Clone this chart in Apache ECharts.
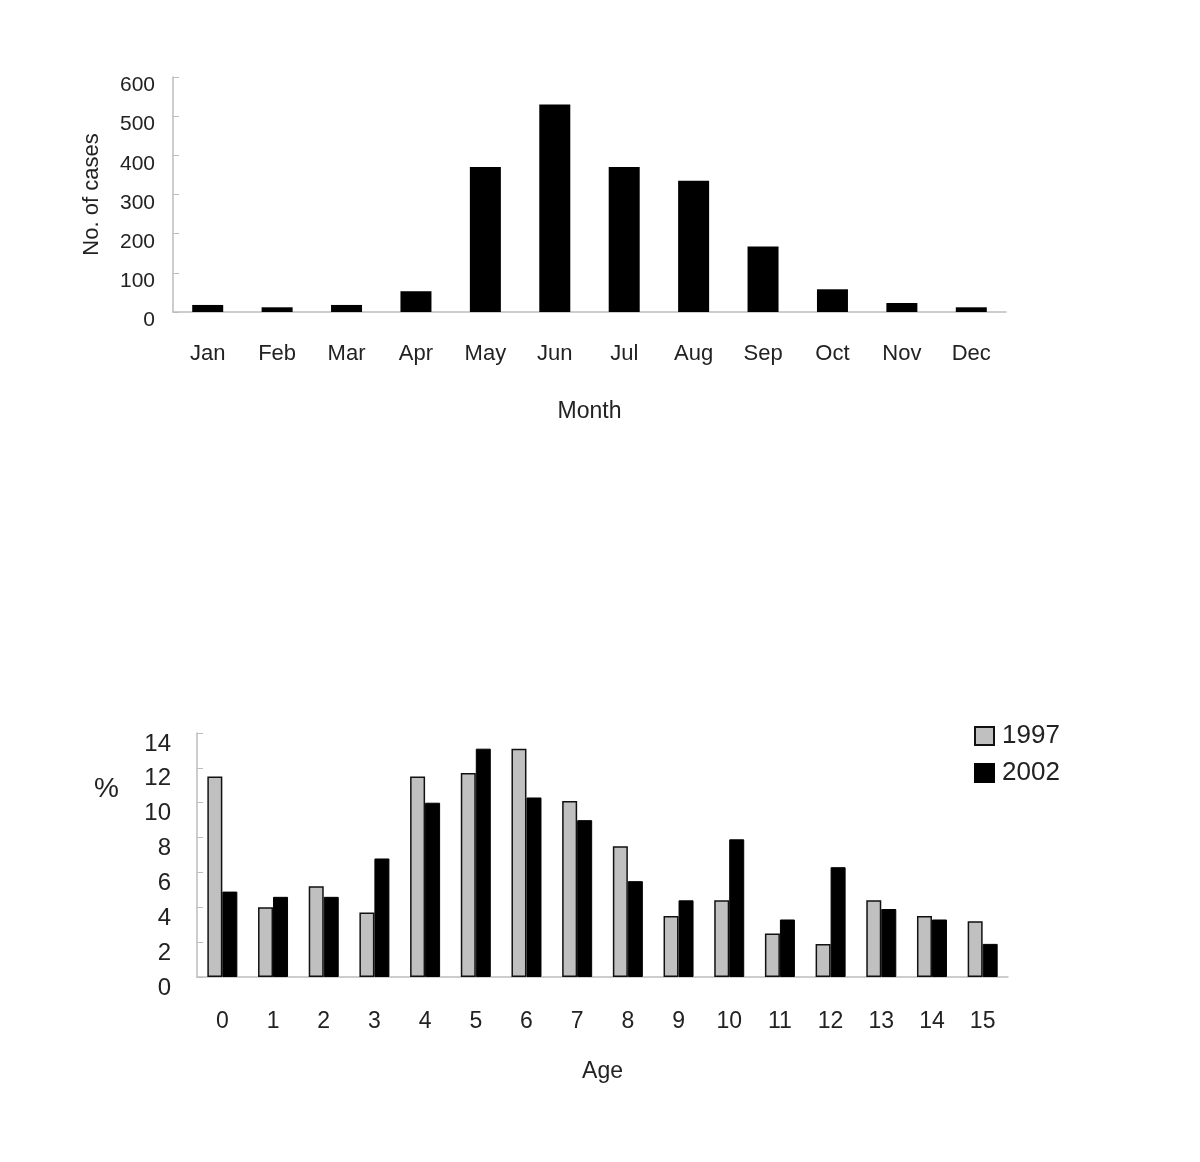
<!DOCTYPE html>
<html>
<head>
<meta charset="utf-8">
<script src="https://cdn.jsdelivr.net/npm/echarts@6/dist/echarts.min.js"></script>
<style>
html,body{margin:0;padding:0;background:#fff;}
#chart{width:1200px;height:1162px;}
</style>
</head>
<body>
<div id="chart"></div>
<script>
const months = ['Jan','Feb','Mar','Apr','May','Jun','Jul','Aug','Sep','Oct','Nov','Dec'];
const monthCases = [18, 12, 18, 53, 370, 530, 370, 335, 167, 58, 23, 12];
const casesTicks = {min: 0, max: 600, interval: 100};

const ages = ['0','1','2','3','4','5','6','7','8','9','10','11','12','13','14','15'];
const pct1997 = [11.5, 4.0, 5.2, 3.7, 11.5, 11.7, 13.1, 10.1, 7.5, 3.5, 4.4, 2.5, 1.9, 4.4, 3.5, 3.2];
const pct2002 = [4.9, 4.6, 4.6, 6.8, 10.0, 13.1, 10.3, 9.0, 5.5, 4.4, 7.9, 3.3, 6.3, 3.9, 3.3, 1.9];
const pctTicks = {min: 0, max: 14, interval: 2};

const FONT = '"Liberation Sans", Arial, sans-serif';
const TXT = '#222';
const AXC = '#bdbdbd';

const chart = echarts.init(document.getElementById('chart'), null, {renderer: 'canvas'});

const option = {
  backgroundColor: '#fff',
  animation: false,
  textStyle: {fontFamily: FONT, color: TXT},
  grid: [
    {left: 173, top: 77, right: 194, bottom: 850},
    {left: 197, top: 733, right: 192, bottom: 185}
  ],
  legend: {
    data: ['1997', '2002'],
    orient: 'vertical',
    left: 969,
    top: 718,
    icon: 'rect',
    itemWidth: 19,
    itemHeight: 18,
    itemGap: 11,
    textStyle: {fontFamily: FONT, fontSize: 26, color: TXT, padding: [0, 0, 0, 3]}
  },
  graphic: [
    {type: 'text', left: 94, top: 775, style: {text: '%', fontFamily: FONT, fontSize: 28, fill: TXT}}
  ],
  xAxis: [
    {
      gridIndex: 0, type: 'category', data: months,
      axisLine: {lineStyle: {color: AXC, width: 1.5}},
      axisTick: {inside: true, length: 8, lineStyle: {color: AXC}},
      axisLabel: {fontFamily: FONT, fontSize: 22, color: TXT, margin: 31},
      name: 'Month', nameLocation: 'middle', nameGap: 88,
      nameTextStyle: {fontFamily: FONT, fontSize: 23, color: TXT}
    },
    {
      gridIndex: 1, type: 'category', data: ages,
      axisLine: {lineStyle: {color: AXC, width: 1.5}},
      axisTick: {inside: true, length: 8, lineStyle: {color: AXC}},
      axisLabel: {fontFamily: FONT, fontSize: 23, color: TXT, margin: 33},
      name: 'Age', nameLocation: 'middle', nameGap: 83,
      nameTextStyle: {fontFamily: FONT, fontSize: 23, color: TXT}
    }
  ],
  yAxis: [
    {
      gridIndex: 0, type: 'value', min: casesTicks.min, max: casesTicks.max, interval: casesTicks.interval,
      axisLine: {show: true, lineStyle: {color: AXC, width: 1.5}},
      axisTick: {show: true, inside: true, length: 6, lineStyle: {color: AXC}},
      splitLine: {show: false},
      axisLabel: {fontFamily: FONT, fontSize: 21, color: TXT, margin: 18, verticalAlign: 'top', padding: [-2, 0, 0, 0]},
      name: 'No. of cases', nameLocation: 'middle', nameGap: 70, nameRotate: 90,
      nameTextStyle: {fontFamily: FONT, fontSize: 22, color: TXT}
    },
    {
      gridIndex: 1, type: 'value', min: pctTicks.min, max: pctTicks.max, interval: pctTicks.interval,
      axisLine: {show: true, lineStyle: {color: AXC, width: 1.5}},
      axisTick: {show: true, inside: true, length: 6, lineStyle: {color: AXC}},
      splitLine: {show: false},
      axisLabel: {fontFamily: FONT, fontSize: 24, color: TXT, margin: 26, verticalAlign: 'top', padding: [-1, 0, 0, 0]}
    }
  ],
  series: [
    {
      name: 'Cases', type: 'bar', xAxisIndex: 0, yAxisIndex: 0, data: monthCases,
      barWidth: 31, itemStyle: {color: '#000'}
    },
    {
      name: '1997', type: 'bar', xAxisIndex: 1, yAxisIndex: 1, data: pct1997,
      barWidth: 15, barGap: '0%',
      itemStyle: {color: '#c0c0c0', borderColor: '#111', borderWidth: 1.5}
    },
    {
      name: '2002', type: 'bar', xAxisIndex: 1, yAxisIndex: 1, data: pct2002,
      barWidth: 15, barGap: '0%',
      itemStyle: {color: '#000', borderColor: '#000', borderWidth: 1}
    }
  ]
};
chart.setOption(option);
</script>
</body>
</html>
